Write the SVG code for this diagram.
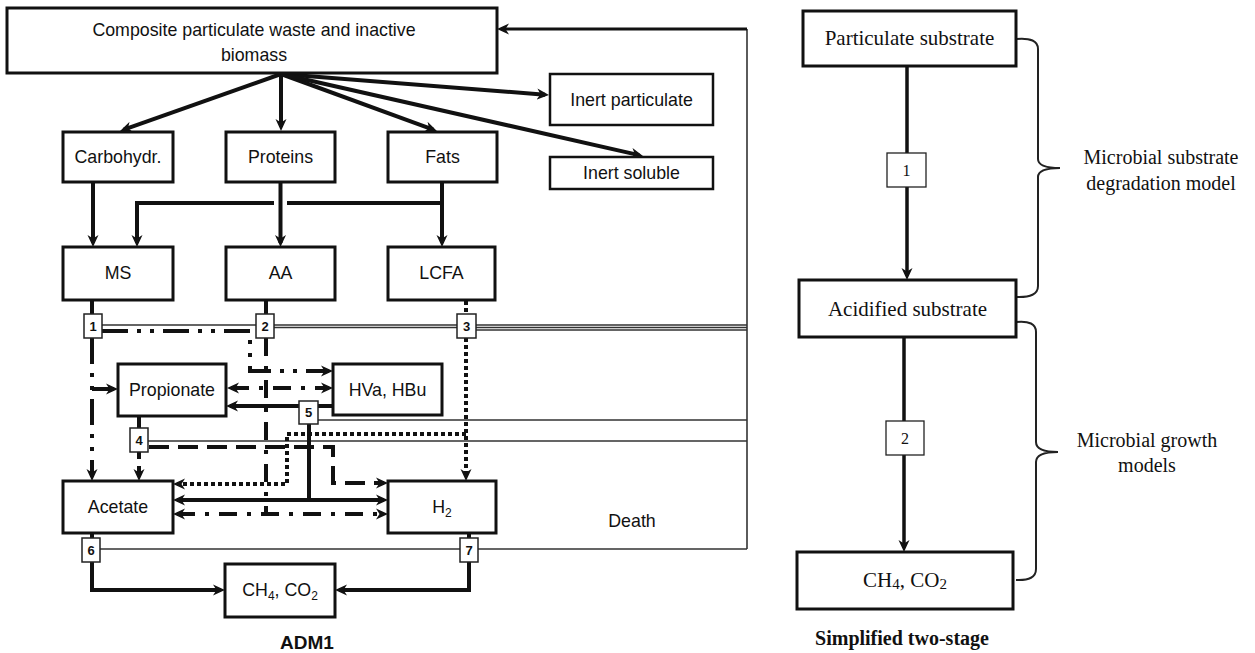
<svg xmlns="http://www.w3.org/2000/svg" width="1255" height="653" viewBox="0 0 1255 653">
<defs>
<marker id="ah" viewBox="0 0 12 12" refX="8" refY="6" markerWidth="12" markerHeight="12" markerUnits="userSpaceOnUse" orient="auto-start-reverse"><path d="M0,0.5 L12,6 L0,11.5 L3.5,6 z" fill="#111"/></marker>
<style>
.box{fill:#fff;stroke:#111;stroke-width:3}
.nb{fill:#fff;stroke:#222;stroke-width:1.5}
.sb{fill:#fff;stroke:#222;stroke-width:1.3}
.t{font-family:"Liberation Sans",Arial,sans-serif;font-size:17.8px;fill:#111;text-anchor:middle}
.n{font-family:"Liberation Sans",Arial,sans-serif;font-size:13px;font-weight:bold;fill:#111;text-anchor:middle}
.s{font-family:"Liberation Serif","Times New Roman",serif;font-size:21px;fill:#111;text-anchor:middle}
.c{fill:none;stroke:#111;stroke-width:4}
.p1{stroke-dasharray:26 9 4 9 4 9}
.p2{stroke-dasharray:18 10 4 10}
.p3{stroke-dasharray:4 3}
.p4{stroke-dasharray:20 9}
.d{fill:none;stroke:#333;stroke-width:1.3}
.r{fill:none;stroke:#111;stroke-width:3.5}
.br{fill:none;stroke:#222;stroke-width:2}
</style>
</defs>
<rect width="1255" height="653" fill="#fff"/>
<g id="connectors">
<path class="d" d="M102,325 H747 M274,327.5 H747 M476,330 H747 M318,420 H747 M148,441 H747 M100,549 H747"/>
<path class="d" d="M747,549 V29" style="stroke-width:1.6"/>
<path class="c" d="M747,29 L501,29" style="stroke-width:3" marker-end="url(#ah)"/>
<path class="c" d="M281,74 L123.8,129.7" marker-end="url(#ah)"/>
<path class="c" d="M281,74 L281,127" marker-end="url(#ah)"/>
<path class="c" d="M281,74 L433.2,129.6" marker-end="url(#ah)"/>
<path class="c" d="M281,74 L545,94.7" marker-end="url(#ah)"/>
<path class="c" d="M281,74 L639.1,155.1" marker-end="url(#ah)"/>
<path class="c" d="M93,182 L93,243" marker-end="url(#ah)"/>
<path class="c" d="M442,203 L287,203 M274,203 L137,203 L137,243" marker-end="url(#ah)"/>
<path class="c" d="M280.5,182 L280.5,243" marker-end="url(#ah)"/>
<path class="c" d="M442,182 L442,243" marker-end="url(#ah)"/>
<path class="c" d="M92,300 L92,314 M266,300 L266,314 M139,416 L139,428 M92,533 L92,538 M469,533 L469,538"/>
<path class="c p3" d="M466,301 L466,314"/>
<path class="c p1" d="M102,331 L250,331 L250,371 L329,371" marker-end="url(#ah)"/>
<path class="c p1" d="M92,338 L92,477" marker-end="url(#ah)"/>
<path class="c" d="M92,389 L114,389" marker-end="url(#ah)"/>
<path class="c p2" d="M266,338 L266,514"/>
<path class="c p2" d="M231,388 L329,388" marker-start="url(#ah)" marker-end="url(#ah)"/>
<path class="c p2" d="M177,514 L384,514" marker-start="url(#ah)" marker-end="url(#ah)"/>
<path class="c p3" d="M466,338 L466,477" marker-end="url(#ah)"/>
<path class="c p3" d="M466,434 L287,434 L287,484 L177,484" marker-end="url(#ah)"/>
<path class="c p4" d="M149,447 L333,447 L333,483 L384,483" marker-end="url(#ah)"/>
<path class="c" style="stroke-dasharray:7 7" d="M139,452 L139,477" marker-end="url(#ah)"/>
<path class="c" d="M333,406 L230,406" marker-end="url(#ah)"/>
<path class="c" d="M309,424 L309,500"/>
<path class="c" d="M309,500 L177,500" marker-end="url(#ah)"/>
<path class="c" d="M309,500 L384,500" marker-end="url(#ah)"/>
<path class="c" d="M92,562 L92,590 L221,590" marker-end="url(#ah)"/>
<path class="c" d="M469,562 L469,590 L339,590" marker-end="url(#ah)"/>
<path class="r" d="M907,66 L907,276" marker-end="url(#ah)"/>
<path class="r" d="M904,337 L904,548" marker-end="url(#ah)"/>
<path class="br" d="M1016,39 Q1038,37 1038,49 L1038,159 Q1038,168 1060,168 Q1038,168 1038,177 L1038,286 Q1038,298 1016,297"/>
<path class="br" d="M1016,322 Q1036,320 1036,332 L1036,442 Q1036,452 1058,452 Q1036,452 1036,462 L1036,569 Q1036,581 1016,580"/>
</g>
<g id="composite"><rect class="box" x="7" y="8" width="490" height="65"/><text class="t" x="254" y="36">Composite particulate waste and inactive</text><text class="t" x="254" y="61">biomass</text></g>
<g id="inert-particulate"><rect class="box" x="550" y="74" width="163" height="51" style="stroke-width:2.5"/><text class="t" x="631.5" y="106">Inert particulate</text></g>
<g id="inert-soluble"><rect class="box" x="550" y="157" width="163" height="32" style="stroke-width:2.5"/><text class="t" x="631.5" y="179">Inert soluble</text></g>
<g id="carbohydr"><rect class="box" x="63" y="132" width="110" height="50"/><text class="t" x="118" y="163">Carbohydr.</text></g>
<g id="proteins"><rect class="box" x="226" y="132" width="109" height="50"/><text class="t" x="280.5" y="163">Proteins</text></g>
<g id="fats"><rect class="box" x="388" y="132" width="109" height="50"/><text class="t" x="442.5" y="163">Fats</text></g>
<g id="ms"><rect class="box" x="63" y="247" width="110" height="53"/><text class="t" x="118" y="279">MS</text></g>
<g id="aa"><rect class="box" x="226" y="247" width="109" height="53"/><text class="t" x="280.5" y="279">AA</text></g>
<g id="lcfa"><rect class="box" x="388" y="247" width="107" height="53"/><text class="t" x="441.5" y="279">LCFA</text></g>
<g id="propionate"><rect class="box" x="118" y="364" width="108" height="52"/><text class="t" x="172" y="396">Propionate</text></g>
<g id="hva-hbu"><rect class="box" x="333" y="364" width="109" height="51"/><text class="t" x="387.5" y="396">HVa, HBu</text></g>
<g id="acetate"><rect class="box" x="63" y="481" width="110" height="52"/><text class="t" x="118" y="513">Acetate</text></g>
<g id="h2"><rect class="box" x="388" y="481" width="108" height="52"/><text class="t" x="442" y="513">H<tspan font-size="12" dy="4">2</tspan></text></g>
<g id="ch4-co2"><rect class="box" x="225" y="564" width="110" height="53"/><text class="t" x="280" y="596">CH<tspan font-size="12" dy="4">4</tspan><tspan dy="-4">, CO</tspan><tspan font-size="12" dy="4">2</tspan></text></g>
<g id="proc1"><rect class="nb" x="84" y="314" width="18" height="24"/><text class="n" x="93" y="331">1</text></g>
<g id="proc2"><rect class="nb" x="256" y="314" width="18" height="24"/><text class="n" x="265" y="331">2</text></g>
<g id="proc3"><rect class="nb" x="457" y="314" width="19" height="24"/><text class="n" x="466.5" y="331">3</text></g>
<g id="proc4"><rect class="nb" x="130" y="428" width="18" height="24"/><text class="n" x="139" y="445">4</text></g>
<g id="proc5"><rect class="nb" x="299" y="401" width="19" height="23"/><text class="n" x="308.5" y="417">5</text></g>
<g id="proc6"><rect class="nb" x="82" y="538" width="18" height="24"/><text class="n" x="91" y="555">6</text></g>
<g id="proc7"><rect class="nb" x="460" y="538" width="18" height="24"/><text class="n" x="469" y="555">7</text></g>
<g id="death-label"><text class="t" x="632" y="527">Death</text></g>
<g id="adm1-label"><text class="t" x="307" y="649" style="font-weight:bold;font-size:19px">ADM1</text></g>
<g id="particulate-substrate"><rect class="box" x="803" y="11" width="213" height="55"/><text class="s" x="909.5" y="45">Particulate substrate</text></g>
<g id="step1"><rect class="sb" x="887" y="153" width="39" height="34"/><text class="s" x="906.5" y="176" style="font-size:16px">1</text></g>
<g id="acidified-substrate"><rect class="box" x="799" y="280" width="217" height="57"/><text class="s" x="907.5" y="316">Acidified substrate</text></g>
<g id="step2"><rect class="sb" x="886" y="421" width="38" height="34"/><text class="s" x="905" y="444" style="font-size:16px">2</text></g>
<g id="ch4-co2-simple"><rect class="box" x="797" y="552" width="216" height="57"/><text class="s" x="905" y="587">CH<tspan font-size="15" dy="2">4</tspan><tspan dy="-2">, CO</tspan><tspan font-size="15" dy="2">2</tspan></text></g>
<g id="label-degradation"><text class="s" x="1161" y="164" style="font-size:20px">Microbial substrate</text><text class="s" x="1161" y="190" style="font-size:20px">degradation model</text></g>
<g id="label-growth"><text class="s" x="1147" y="447" style="font-size:20px">Microbial growth</text><text class="s" x="1147" y="472" style="font-size:20px">models</text></g>
<g id="label-simplified"><text class="s" x="902" y="645" style="font-weight:bold;font-size:20px">Simplified two-stage</text></g>
</svg>
